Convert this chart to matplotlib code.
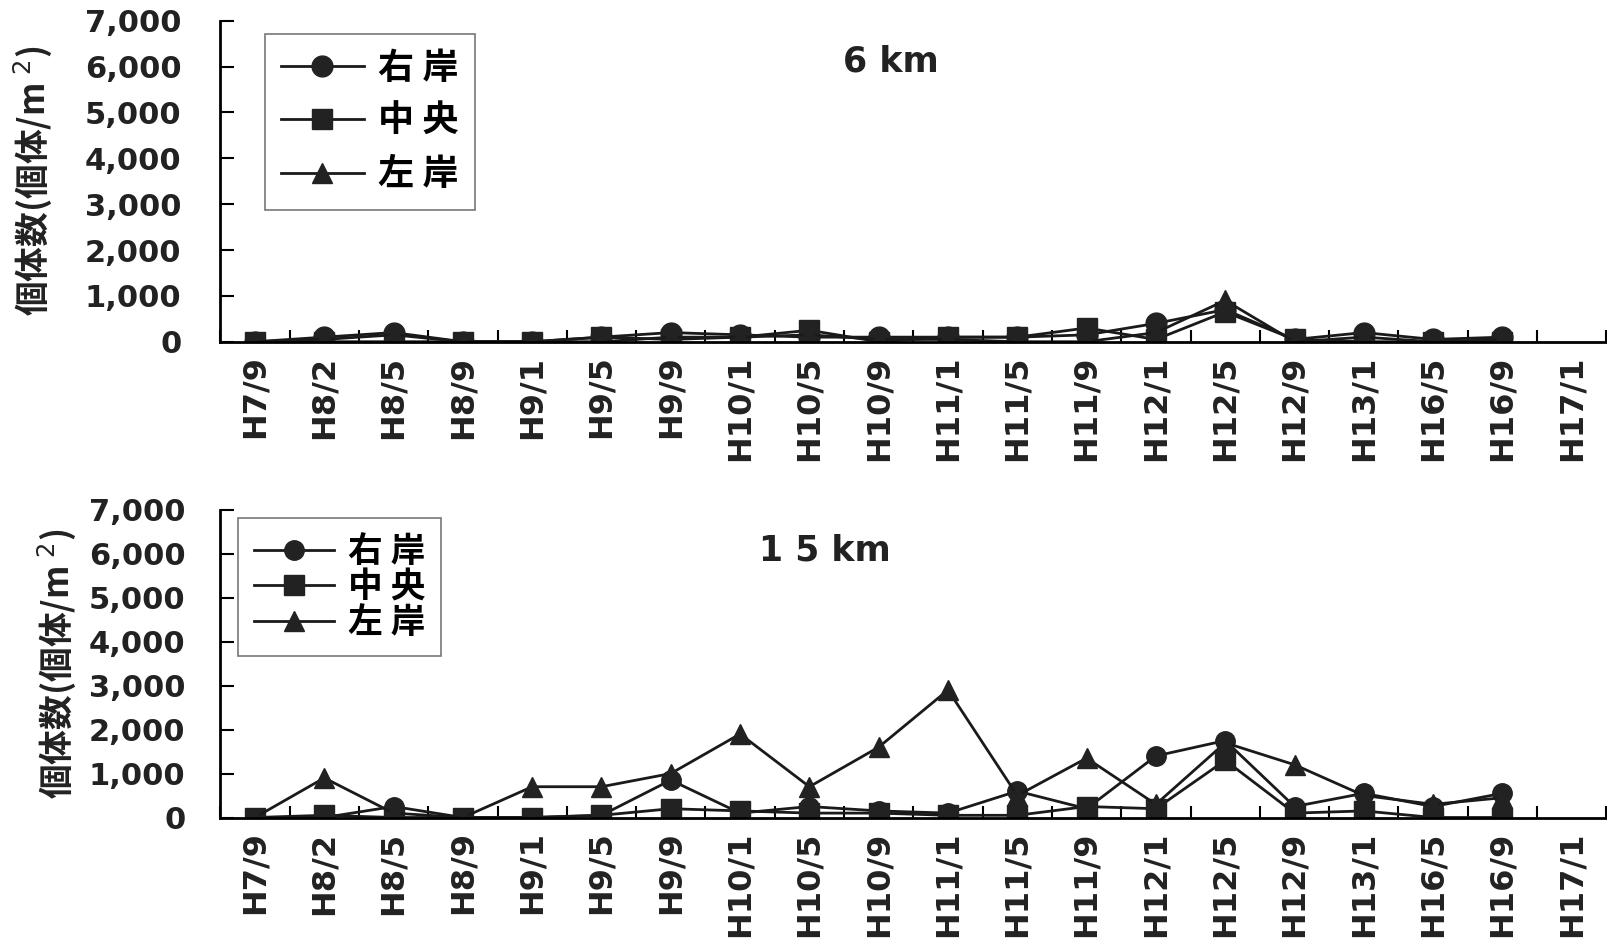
import matplotlib
matplotlib.use('Agg')
import matplotlib.pyplot as plt
import numpy as np

plt.rcParams['font.family'] = ['DejaVu Sans', 'Noto Sans CJK JP']

# Sampling dates (Heisei year/month)
dates = ['H7/9', 'H8/2', 'H8/5', 'H8/9', 'H9/1', 'H9/5', 'H9/9', 'H10/1', 'H10/5', 'H10/9',
         'H11/1', 'H11/5', 'H11/9', 'H12/1', 'H12/5', 'H12/9', 'H13/1', 'H16/5', 'H16/9', 'H17/1']

# 6km (last date has no data)
right_6 = [0, 100, 200, 0, 0, 100, 200, 150, 100, 100, 100, 100, 150, 400, 700, 50, 200, 50, 100]
center_6 = [0, 0, 0, 0, 0, 100, 50, 100, 250, 0, 100, 100, 300, 50, 650, 50, 0, 0, 0]
left_6 = [0, 50, 150, 0, 0, 0, 100, 100, 150, 50, 50, 0, 0, 200, 900, 0, 100, 0, 50]

# 15km
right_15 = [0, 0, 250, 0, 0, 50, 850, 100, 250, 150, 100, 600, 200, 1400, 1750, 250, 550, 250, 550]
center_15 = [0, 50, 0, 0, 0, 50, 200, 150, 100, 100, 50, 50, 250, 200, 1300, 100, 150, 0, 0]
left_15 = [0, 900, 100, 0, 700, 700, 1000, 1900, 700, 1600, 2900, 500, 1350, 300, 1700, 1200, 500, 300, 450]

series_names = ['右 岸', '中 央', '左 岸']
markers = ['o', 's', '^']

fig = plt.figure(figsize=(16.08, 9.44), dpi=100)
ax1 = fig.add_axes([0.137, 0.638, 0.862, 0.340])
ax2 = fig.add_axes([0.137, 0.134, 0.862, 0.326])


def draw(ax, data, title, title_xy, msize, legend_box, leg_size, leg_space, ypad):
    x = np.arange(len(data[0]))
    handles = []
    for vals, m, name in zip(data, markers, series_names):
        h, = ax.plot(x, vals, color='#1a1a1a', lw=2, marker=m, markersize=msize,
                     markerfacecolor='#222222', markeredgecolor='#222222', label=name)
        handles.append(h)
    ax.set_xlim(-0.5, len(dates) - 0.5)
    ax.set_ylim(0, 7000)
    ax.set_yticks(np.arange(0, 7001, 1000))
    ax.set_yticklabels([f'{v:,}' for v in range(0, 7001, 1000)], fontsize=22, fontweight='bold',
                       color='#222222')
    ax.set_xticks(np.arange(len(dates)))
    ax.set_xticklabels(dates, rotation=90, fontsize=23, fontweight='bold', color='#222222')
    ax.set_xticks(np.arange(len(dates) + 1) - 0.5, minor=True)
    ax.tick_params(axis='x', which='major', length=0, pad=10)
    ax.tick_params(axis='x', which='minor', direction='in', length=9, width=1.5)
    ax.tick_params(axis='y', direction='in', length=10, width=1.5, pad=ypad)
    for s in ['top', 'right']:
        ax.spines[s].set_visible(False)
    for s in ['left', 'bottom']:
        ax.spines[s].set_linewidth(2)
    ax.set_ylabel('個体数(個体/m$^{\\ 2}$)', fontsize=25, fontweight='bold', color='#222222',
                  family=['Noto Sans CJK JP', 'DejaVu Sans'])
    ax.text(title_xy[0], title_xy[1], title, transform=ax.transAxes, fontsize=25,
            fontweight='bold', ha='center', va='center', color='#222222')
    leg = ax.legend(handles=handles, loc='upper left', bbox_to_anchor=legend_box,
                    prop={'family': ['Noto Sans CJK JP'], 'size': leg_size, 'weight': 'bold'},
                    frameon=True, fancybox=False, edgecolor='#555555', handlelength=2.3,
                    labelspacing=leg_space, borderpad=0.45, handletextpad=0.4,
                    borderaxespad=0)
    leg.get_frame().set_linewidth(1.2)


draw(ax1, [right_6, center_6, left_6], '6 km', (0.484, 0.872), 15, (0.032, 0.96), 26, 0.45, 28)
draw(ax2, [right_15, center_15, left_15], '1 5 km', (0.436, 0.867), 14, (0.013, 0.973), 25, 0.02, 25)

ax1.yaxis.set_label_coords(-0.12, 0.5)
ax2.yaxis.set_label_coords(-0.103, 0.5)

fig.savefig('out.png', dpi=100, facecolor='white')
